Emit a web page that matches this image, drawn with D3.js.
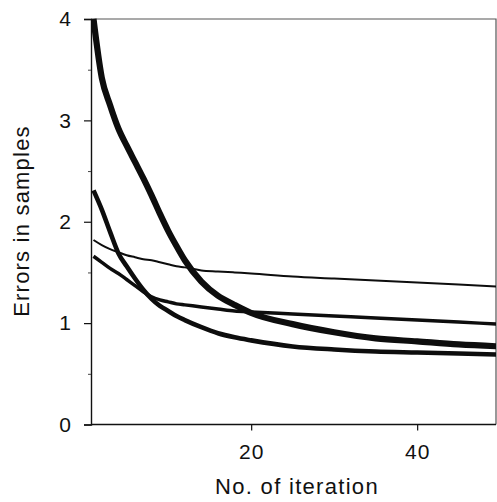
<!DOCTYPE html>
<html>
<head>
<meta charset="utf-8">
<script src="https://cdn.jsdelivr.net/npm/d3@7"></script>
<style>
  body { margin: 0; background: #fff; }
  svg { display: block; font-family: "Liberation Sans", Arial, Helvetica, sans-serif; }
</style>
</head>
<body>
<div id="chart"></div>
<script>
var iters = [1, 2, 3, 4, 5, 6, 7, 8, 9, 10, 11, 12, 14, 16, 18, 20, 25, 30, 35, 40, 45, 50];

// thickest curve, starts at 4
var seriesA = [4.00, 3.42, 3.15, 2.92, 2.75, 2.59, 2.43, 2.26, 2.08, 1.91, 1.76, 1.62, 1.41, 1.27, 1.18, 1.10, 0.99, 0.91, 0.85, 0.82, 0.79, 0.77];
// thick curve, starts near 2.3
var seriesB = [2.31, 2.12, 1.90, 1.69, 1.56, 1.44, 1.33, 1.24, 1.17, 1.12, 1.07, 1.03, 0.96, 0.90, 0.86, 0.83, 0.77, 0.74, 0.72, 0.71, 0.70, 0.69];
// medium curve, starts near 1.67
var seriesC = [1.66, 1.60, 1.54, 1.49, 1.43, 1.37, 1.31, 1.26, 1.23, 1.21, 1.19, 1.18, 1.16, 1.14, 1.12, 1.11, 1.09, 1.07, 1.05, 1.03, 1.01, 0.99];
// thin curve, starts near 1.82
var seriesD = [1.82, 1.77, 1.73, 1.70, 1.67, 1.65, 1.63, 1.62, 1.60, 1.58, 1.56, 1.55, 1.52, 1.51, 1.50, 1.49, 1.46, 1.44, 1.42, 1.40, 1.38, 1.36];

var xTicks = [20, 40];
var yTicks = [0, 1, 2, 3, 4];
var yMinorTicks = [0.5, 1.5, 2.5, 3.5];

var xTitle = "No. of iteration";
var yTitle = "Errors in samples";

var w = 497, h = 502;
var margin = {left: 91, right: 1, top: 19, bottom: 78};
var graphWidth = w - margin.left - margin.right;
var graphHeight = h - margin.top - margin.bottom;

var svg = d3.select("#chart").append("svg")
  .attr("width", w)
  .attr("height", h);

var x = d3.scaleLinear().domain([0.7, 49.5]).range([0, graphWidth]);
var y = d3.scaleLinear().domain([0, 4]).range([graphHeight + 0.5, 0]);

var g = svg.append("g")
  .attr("transform", "translate(" + margin.left + "," + margin.top + ")");

g.append("clipPath").attr("id", "plotClip")
  .append("rect")
  .attr("x", 0).attr("y", -4)
  .attr("width", graphWidth).attr("height", graphHeight + 8);

// frame top/right (faint)
g.append("path")
  .attr("d", "M0,0H" + graphWidth + "V" + y(0))
  .attr("fill", "none")
  .attr("stroke", "#555")
  .attr("stroke-width", 1.2);

// y axis
var yAxis = g.append("g")
  .call(d3.axisLeft(y).tickValues(yTicks).tickSize(7).tickPadding(13).tickFormat(d3.format("d")));
yAxis.select(".domain").attr("stroke", "#111").attr("stroke-width", 1.4);
yAxis.selectAll(".tick line").attr("stroke", "#111").attr("stroke-width", 1.2);
yAxis.selectAll(".tick text")
  .attr("font-size", 21)
  .attr("font-family", "Liberation Sans, Arial, sans-serif")
  .attr("fill", "#111");

g.append("g")
  .call(d3.axisLeft(y).tickValues(yMinorTicks).tickSize(3).tickFormat(""))
  .call(function(s) { s.select(".domain").remove(); })
  .selectAll(".tick line").attr("stroke", "#444");

// x axis
var xAxis = g.append("g")
  .attr("transform", "translate(0," + y(0) + ")")
  .call(d3.axisBottom(x).tickValues(xTicks).tickSize(6).tickPadding(14).tickFormat(d3.format("d")));
xAxis.select(".domain").attr("stroke", "#111").attr("stroke-width", 1.4)
  .attr("d", "M0,0H" + graphWidth);
xAxis.selectAll(".tick line").attr("stroke", "#111").attr("stroke-width", 1.2);
xAxis.selectAll(".tick text")
  .attr("font-size", 21)
  .attr("font-family", "Liberation Sans, Arial, sans-serif")
  .attr("letter-spacing", 1)
  .attr("fill", "#111");

// curves
var series = [
  {values: seriesD, width: 2.0},
  {values: seriesC, width: 3.5},
  {values: seriesB, width: 4.6},
  {values: seriesA, width: 6.2}
];

var line = d3.line()
  .x(function(d) { return x(d[0]); })
  .y(function(d) { return y(d[1]); })
  .curve(d3.curveMonotoneX);

g.append("g").attr("clip-path", "url(#plotClip)")
  .selectAll("path")
  .data(series)
  .enter().append("path")
  .attr("d", function(s) { return line(iters.map(function(t, i) { return [t, s.values[i]]; })); })
  .attr("fill", "none")
  .attr("stroke", "#0d0d0d")
  .attr("stroke-width", function(s) { return s.width; })
  .attr("stroke-linejoin", "round")
  .attr("stroke-linecap", "butt");

// titles
svg.append("text")
  .attr("x", 297)
  .attr("y", 494)
  .attr("text-anchor", "middle")
  .attr("font-size", 22)
  .attr("letter-spacing", 1.3)
  .attr("fill", "#111")
  .text(xTitle);

svg.append("text")
  .attr("transform", "translate(29,221) rotate(-90)")
  .attr("text-anchor", "middle")
  .attr("font-size", 22)
  .attr("letter-spacing", 1.2)
  .attr("fill", "#111")
  .text(yTitle);
</script>
</body>
</html>
